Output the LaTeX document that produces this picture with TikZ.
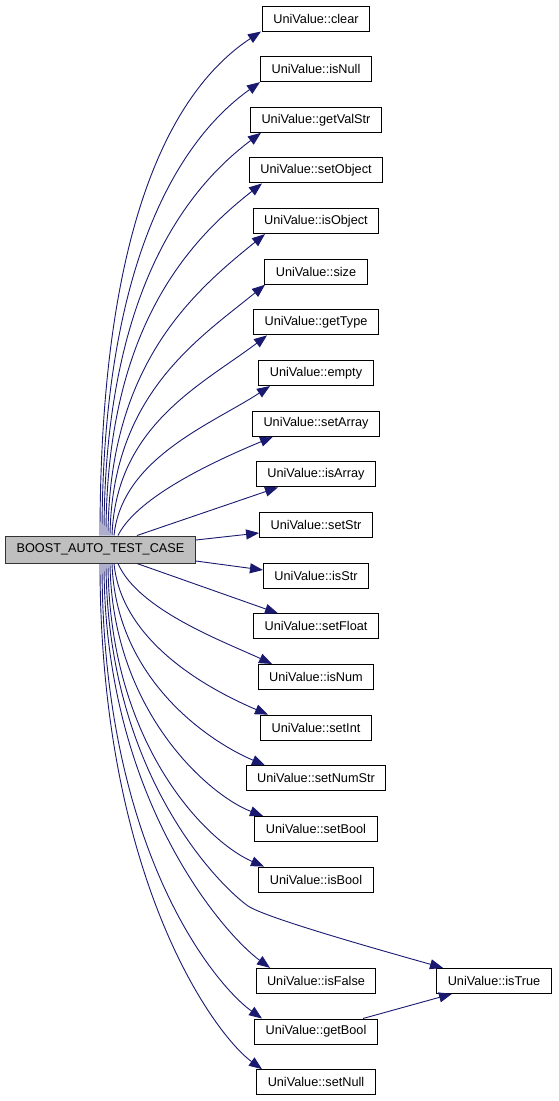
\documentclass[tikz,border=0pt]{standalone}
\usepackage{fontspec}
\setmainfont{Liberation Sans}
\usetikzlibrary{arrows.meta}
\definecolor{edgeblue}{HTML}{191970}
\definecolor{maingray}{HTML}{BFBFBF}
\begin{document}
\begin{tikzpicture}[x=1pt,y=-1pt,
  box/.style={draw=black, line width=1pt, fill=white, minimum height=25pt,
    inner xsep=11pt, inner ysep=0pt, font=\fontsize{12.7}{15}\selectfont},
  mainbox/.style={box, draw=black!80, fill=maingray, minimum height=27pt},
  callline/.style={draw=edgeblue, line width=0.9pt,
    -{Triangle[length=13pt,width=10pt,fill=edgeblue]}}]
\useasboundingbox (0,0) rectangle (559,1101);

\node[mainbox] (main) at (100.5,549.5) {BOOST\_AUTO\_TEST\_CASE};

\node[box] (clear)     at (316,18.5)   {UniValue::clear};
\node[box] (isNull)    at (316,69.15)  {UniValue::isNull};
\node[box] (getValStr) at (316,119.8)  {UniValue::getValStr};
\node[box] (setObject) at (316,170.45) {UniValue::setObject};
\node[box] (isObject)  at (316,221.1)  {UniValue::isObject};
\node[box] (size)      at (316,271.75) {UniValue::size};
\node[box] (getType)   at (316,322.4)  {UniValue::getType};
\node[box] (empty)     at (316,373.05) {UniValue::empty};
\node[box] (setArray)  at (316,423.7)  {UniValue::setArray};
\node[box] (isArray)   at (316,474.35) {UniValue::isArray};
\node[box] (setStr)    at (316,525)    {UniValue::setStr};
\node[box] (isStr)     at (316,575.65) {UniValue::isStr};
\node[box] (setFloat)  at (316,626.3)  {UniValue::setFloat};
\node[box] (isNum)     at (316,676.95) {UniValue::isNum};
\node[box] (setInt)    at (316,727.6)  {UniValue::setInt};
\node[box] (setNumStr) at (316,778.25) {UniValue::setNumStr};
\node[box] (setBool)   at (316,828.9)  {UniValue::setBool};
\node[box] (isBool)    at (316,879.55) {UniValue::isBool};
\node[box] (isFalse)   at (316,980.85) {UniValue::isFalse};
\node[box] (getBool)   at (316,1031.5) {UniValue::getBool};
\node[box] (setNull)   at (316,1082.15){UniValue::setNull};
\node[box] (isTrue)    at (494,980.85) {UniValue::isTrue};

% upper edges
\draw[callline] ([xshift=-0.5pt]main.north) .. controls (100,240) and (165,95) .. (261,0 |- clear.south);
\draw[callline] ([xshift=1.5pt]main.north) .. controls (102,275) and (172,145) .. (260,0 |- isNull.south);
\draw[callline] ([xshift=3.5pt]main.north) .. controls (104,305) and (178,195) .. (261,0 |- getValStr.south);
\draw[callline] ([xshift=5.5pt]main.north) .. controls (106,335) and (183,245) .. (262,0 |- setObject.south);
\draw[callline] ([xshift=7.5pt]main.north) .. controls (109,365) and (192,293) .. (265,0 |- isObject.south);
\draw[callline] ([xshift=9.5pt]main.north) .. controls (112,395) and (197,340) .. (265,0 |- size.south);
\draw[callline] ([xshift=11.5pt]main.north) .. controls (116,425) and (203,384) .. (267,0 |- getType.south);
\draw[callline] ([xshift=13.5pt]main.north) .. controls (122,458) and (212,424) .. (270,0 |- empty.south);
\draw[callline] ([xshift=17.5pt]main.north) .. controls (138,495) and (222,458) .. (273,0 |- setArray.south);
\draw[callline] (137,0 |- main.north) -- (278,0 |- isArray.south);
% side edges
\draw[callline] (main.east |- 0,540) -- (setStr.west |- 0,533);
\draw[callline] (main.east |- 0,561) -- (isStr.west |- 0,570);
% lower edges
\draw[callline] (137,0 |- main.south) -- (278,0 |- setFloat.north);
\draw[callline] ([xshift=17.5pt]main.south) .. controls (138,610) and (225,642) .. (272,0 |- isNum.north);
\draw[callline] ([xshift=13.5pt]main.south) .. controls (122,645) and (215,692) .. (268,0 |- setInt.north);
\draw[callline] ([xshift=11.5pt]main.south) .. controls (116,680) and (210,742) .. (265,0 |- setNumStr.north);
\draw[callline] ([xshift=9.5pt]main.south) .. controls (112,712) and (210,796) .. (263,0 |- setBool.north);
\draw[callline] ([xshift=7.5pt]main.south) .. controls (109,745) and (207,842) .. (264,0 |- isBool.north);
\draw[callline] ([xshift=5.5pt]main.south) .. controls (107,770) and (215,882) .. (248,906)
   .. controls (266,918) and (380,950) .. (443,0 |- isTrue.north);
\draw[callline] ([xshift=3.5pt]main.south) .. controls (104,800) and (225,935) .. (270,0 |- isFalse.north);
\draw[callline] ([xshift=1.5pt]main.south) .. controls (102,850) and (215,985) .. (262,0 |- getBool.north);
\draw[callline] ([xshift=-0.5pt]main.south) .. controls (100,880) and (215,1035) .. (262,0 |- setNull.north);
\draw[callline] (363,0 |- getBool.north) -- (452,0 |- isTrue.south);
\end{tikzpicture}
\end{document}
